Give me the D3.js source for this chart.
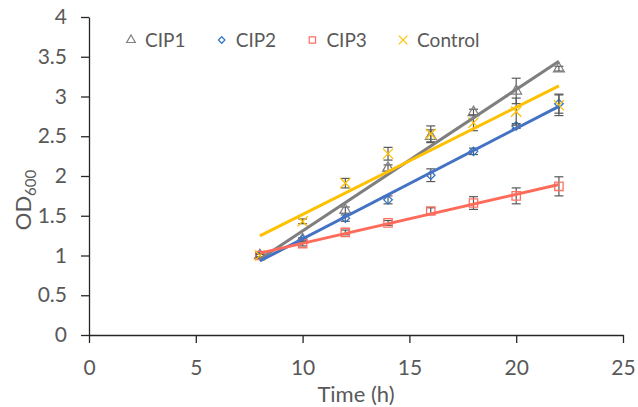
<!DOCTYPE html>
<html>
<head>
<meta charset="utf-8">
<script src="https://cdn.jsdelivr.net/npm/d3@7"></script>
<style>
  body { margin: 0; background: #fff; }
  text { font-family: Lato, "Open Sans", sans-serif; fill: #595959; }
</style>
</head>
<body>
<div id="chart"></div>
<script>
var times = [8, 10, 12, 14, 16, 18, 20, 22];
var seriesNames = ["CIP1", "CIP2", "CIP3", "Control"];
var cip1 = [1.00, 1.20, 1.57, 2.10, 2.50, 2.80, 3.07, 3.35];
var cip2 = [1.00, 1.20, 1.47, 1.70, 2.01, 2.31, 2.63, 2.91];
var cip3 = [1.00, 1.15, 1.29, 1.41, 1.56, 1.66, 1.75, 1.87];
var control = [1.00, 1.43, 1.91, 2.28, 2.53, 2.67, 2.81, 2.89];
var cip1Err = [0.02, 0.02, 0.04, 0.04, 0.08, 0.04, 0.16, 0.03];
var cip2Err = [0.02, 0.02, 0.04, 0.05, 0.08, 0.04, 0.03, 0.12];
var cip3Err = [0.02, 0.03, 0.03, 0.03, 0.04, 0.08, 0.10, 0.12];
var controlErr = [0.02, 0.03, 0.06, 0.08, 0.10, 0.10, 0.17, 0.13];
var xTicks = [0, 5, 10, 15, 20, 25];
var yTicks = [0, 0.5, 1, 1.5, 2, 2.5, 3, 3.5, 4];

var W = 638, H = 407;
var m = [17, 15, 72, 89]; // top right bottom left

// square diamond (rotated square), d3's symbolDiamond is too narrow
var symbolRhomb = {
  draw: function(ctx, size) {
    var r = Math.sqrt(size) / 2 * 1.2;
    ctx.moveTo(0, -r); ctx.lineTo(r, 0); ctx.lineTo(0, r); ctx.lineTo(-r, 0); ctx.closePath();
  }
};

var series = [
  { name: "CIP1", values: cip1, err: cip1Err, symbol: d3.symbolTriangle, size: 50, lsize: 32, color: "#7f7f7f", line: "#7f7f7f" },
  { name: "CIP2", values: cip2, err: cip2Err, symbol: symbolRhomb, size: 50, lsize: 30, color: "#2e75c6", line: "#4472c4" },
  { name: "CIP3", values: cip3, err: cip3Err, symbol: d3.symbolSquare, size: 70, lsize: 40, color: "#ff7060", line: "#ff6b5b" },
  { name: "Control", values: control, err: controlErr, symbol: d3.symbolX, size: 70, lsize: 50, color: "#ffc000", line: "#ffc000" }
];

var x = d3.scaleLinear().domain([0, 25]).range([m[3], W - m[1]]);
var y = d3.scaleLinear().domain([0, 4]).range([H - m[2], m[0]]);

var svg = d3.select("#chart").append("svg")
  .attr("width", W)
  .attr("height", H);

// axes
var gx = svg.append("g")
  .attr("transform", "translate(0," + y(0) + ")")
  .call(d3.axisBottom(x).tickValues(xTicks).tickSize(8).tickSizeOuter(0).tickPadding(17));
var gy = svg.append("g")
  .attr("transform", "translate(" + x(0) + ",0)")
  .call(d3.axisLeft(y).tickValues(yTicks).tickSize(8).tickSizeOuter(0).tickPadding(14).tickFormat(d3.format("")));
[gx, gy].forEach(function(g) {
  g.selectAll("path, line").attr("stroke", "#262626").attr("stroke-width", 1.3);
  g.selectAll("text").attr("font-size", 21).attr("fill", "#595959");
});

svg.append("text")
  .attr("x", (x(0) + x(25)) / 2)
  .attr("y", 402)
  .attr("text-anchor", "middle")
  .attr("font-size", 22)
  .text("Time (h)");

var yl = svg.append("text")
  .attr("transform", "translate(31,200) rotate(-90)")
  .attr("text-anchor", "middle")
  .attr("font-size", 22);
yl.append("tspan").text("OD");
yl.append("tspan").attr("font-size", 15).attr("dy", 5).text("600");

// linear trendlines (least squares)
function fit(vals) {
  var mt = d3.mean(times), mv = d3.mean(vals);
  var sxy = d3.sum(times, function(t, i) { return (t - mt) * (vals[i] - mv); });
  var sxx = d3.sum(times, function(t) { return (t - mt) * (t - mt); });
  var b = sxy / sxx;
  return function(t) { return mv + b * (t - mt); };
}

var plot = svg.append("g");

series.forEach(function(s) {
  var g = plot.append("g");
  // error bars
  s.values.forEach(function(v, i) {
    var cx = x(times[i]);
    var y1 = y(v + s.err[i]), y2 = y(v - s.err[i]);
    g.append("line").attr("x1", cx).attr("x2", cx).attr("y1", y1).attr("y2", y2)
      .attr("stroke", "#595959").attr("stroke-width", 1.2);
    [y1, y2].forEach(function(yy) {
      g.append("line").attr("x1", cx - 4.5).attr("x2", cx + 4.5).attr("y1", yy).attr("y2", yy)
        .attr("stroke", "#595959").attr("stroke-width", 1.2);
    });
  });
  // markers
  g.selectAll("path.mk")
    .data(s.values)
    .enter().append("path")
    .attr("class", "mk")
    .attr("transform", function(d, i) { return "translate(" + x(times[i]) + "," + y(d) + ")"; })
    .attr("d", d3.symbol().type(s.symbol).size(s.size))
    .attr("fill", "none")
    .attr("stroke", s.color)
    .attr("stroke-width", 1.3);
});

series.forEach(function(s) {
  var f = fit(s.values);
  var t0 = times[0], t1 = times[times.length - 1];
  plot.append("line")
    .attr("x1", x(t0)).attr("y1", y(f(t0)))
    .attr("x2", x(t1)).attr("y2", y(f(t1)))
    .attr("stroke", s.line)
    .attr("stroke-width", 3);
});

// legend
var legend = svg.append("g").attr("transform", "translate(131,40)");
var li = legend.selectAll("g")
  .data(series)
  .enter().append("g")
  .attr("transform", function(d, i) { return "translate(" + (i * 90.7) + ",0)"; });
li.append("path")
  .attr("d", function(d) { return d3.symbol().type(d.symbol).size(d.lsize)(); })
  .attr("fill", "none")
  .attr("stroke", function(d) { return d.color; })
  .attr("stroke-width", 1.2);
li.append("text")
  .attr("x", 14)
  .attr("y", 7)
  .attr("font-size", 19)
  .text(function(d) { return d.name; });
</script>
</body>
</html>
